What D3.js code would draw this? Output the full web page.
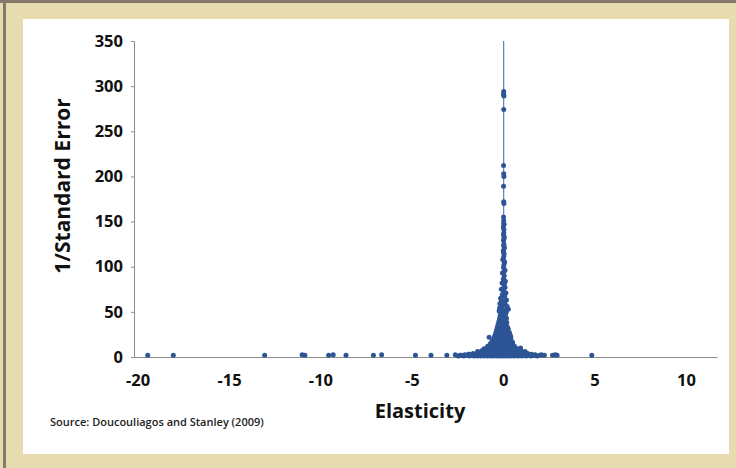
<!DOCTYPE html>
<html>
<head>
<meta charset="utf-8">
<script src="https://cdn.jsdelivr.net/npm/d3@7"></script>
<style>
  html, body { margin: 0; padding: 0; background: #e6dcb0; }
  svg { display: block; }
</style>
</head>
<body>
<div id="svg-container"></div>
<script>
////////////////////////////////////////////////////////////////////
////////////////////////////  Data  ////////////////////////////////
const xTicks = [-20, -15, -10, -5, 0, 5, 10];
const yTicks = [0, 50, 100, 150, 200, 250, 300, 350];

// [elasticity, 1/SE] — far tails lying on the axis
const tailPoints = [
  [-19.45, 2], [-18.05, 2], [-13.05, 2], [-11.0, 2.5], [-10.85, 2],
  [-9.55, 2], [-9.3, 2.5], [-8.6, 2], [-7.1, 2], [-6.65, 2.5],
  [-4.8, 2], [-3.95, 2], [-3.08, 2], [-2.62, 2.5], [-2.35, 2],
  [-2.1, 2.5], [-1.85, 3], [1.64, 2], [1.75, 2.5], [2.0, 2],
  [2.1, 2.5], [2.7, 2], [2.85, 2.5], [2.95, 2], [4.85, 2]
];

// the narrow spike of precise estimates
const spikePoints = [
  [0.03, 294], [0.02, 291], [0.04, 289], [0.03, 274], [0.02, 212],
  [0.03, 203], [0.04, 200], [0.02, 189], [0.03, 172], [0.04, 170],
  [0.02, 155], [0.03, 151], [0.03, 148], [0.05, 147], [0.01, 144],
  [0.04, 141], [0.03, 137], [0.02, 135], [0.06, 133], [0.04, 131],
  [0.02, 129], [0.04, 125], [0.03, 123], [0.07, 121], [0.01, 118],
  [0.02, 116], [0.05, 114], [0.03, 111], [-0.02, 108], [0.05, 106],
  [0.08, 105], [0.04, 102], [0.02, 99], [0.1, 96], [0.03, 94],
  [-0.04, 93], [0.06, 90], [0.03, 87], [0.01, 86], [0.12, 84],
  [-0.06, 82], [0.06, 81], [0.05, 79], [0.1, 77], [-0.1, 75],
  [0.02, 73], [0.15, 71], [-0.05, 69], [0.08, 67], [-0.14, 65],
  [0.18, 63], [0.01, 61], [-0.18, 59], [0.12, 58], [0.22, 56],
  [-0.2, 54], [-0.08, 54], [0.05, 52], [-0.22, 51], [0.16, 49],
  [-0.1, 62], [0.09, 60], [-0.03, 57], [0.28, 53], [-0.15, 50]
];

// the dense base of the funnel
const corePoints = [
  [-2.45, 1], [-2.3, 2], [-2.15, 1], [-1.98, 2], [-1.85, 1], [-1.72, 2],
  [-1.6, 1], [-1.52, 2], [-1.41, 1], [-1.33, 2], [-1.22, 1], [-1.14, 2],
  [-1.03, 1], [-0.94, 2], [-0.86, 1], [-0.77, 2], [-0.68, 1], [-0.61, 2],
  [-0.52, 1], [-0.43, 2], [-0.36, 1], [-0.27, 2], [-0.19, 1], [-0.11, 2],
  [-0.04, 1], [0.06, 2], [0.13, 1], [0.21, 2], [0.29, 1], [0.38, 2],
  [0.46, 1], [0.55, 2], [0.63, 1], [0.72, 2], [0.81, 1], [0.92, 2],
  [1.03, 1], [1.16, 2], [1.27, 1], [1.38, 2], [1.52, 1], [1.7, 2],
  [1.85, 1], [2.25, 2],
  [-1.9, 3], [-1.65, 4], [-1.48, 3], [-1.36, 5], [-1.24, 4], [-1.12, 3],
  [-0.99, 5], [-0.88, 4], [-0.79, 3], [-0.7, 5], [-0.58, 4], [-0.49, 3],
  [-0.41, 5], [-0.32, 4], [-0.23, 3], [-0.15, 5], [-0.07, 4], [0.02, 3],
  [0.09, 5], [0.17, 4], [0.26, 3], [0.34, 5], [0.42, 4], [0.51, 3],
  [0.6, 5], [0.69, 4], [0.8, 3], [0.93, 5], [1.05, 4], [1.19, 3],
  [1.34, 4], [1.55, 3],
  [-1.4, 6], [-1.18, 7], [-1.02, 6], [-0.9, 8], [-0.78, 7], [-0.66, 6],
  [-0.55, 8], [-0.46, 7], [-0.37, 6], [-0.28, 8], [-0.2, 7], [-0.12, 6],
  [-0.03, 8], [0.05, 7], [0.14, 6], [0.22, 8], [0.31, 7], [0.4, 6],
  [0.49, 8], [0.6, 7], [0.72, 6], [0.86, 7], [1.02, 6], [1.2, 6],
  [-1.05, 9], [-0.86, 10], [-0.72, 9], [-0.6, 11], [-0.5, 10], [-0.41, 9],
  [-0.32, 11], [-0.24, 10], [-0.16, 9], [-0.08, 11], [0.01, 10], [0.09, 9],
  [0.18, 11], [0.27, 10], [0.36, 9], [0.47, 11], [0.6, 10], [0.78, 9],
  [0.95, 10],
  [-0.85, 12], [-0.68, 13], [-0.56, 12], [-0.45, 14], [-0.36, 13], [-0.27, 12],
  [-0.19, 14], [-0.11, 13], [-0.03, 12], [0.06, 14], [0.14, 13], [0.23, 12],
  [0.33, 14], [0.45, 13], [0.62, 12],
  [-0.7, 15], [-0.55, 16], [-0.44, 15], [-0.34, 17], [-0.25, 16], [-0.17, 15],
  [-0.09, 17], [-0.01, 16], [0.07, 15], [0.16, 17], [0.26, 16], [0.38, 15],
  [0.52, 16],
  [-0.6, 18], [-0.46, 19], [-0.36, 18], [-0.27, 20], [-0.19, 19], [-0.11, 18],
  [-0.03, 20], [0.05, 19], [0.13, 18], [0.22, 20], [0.33, 19], [0.45, 18],
  [-0.77, 22], [-0.5, 21], [-0.38, 22], [-0.29, 23], [-0.2, 21], [-0.12, 22],
  [-0.04, 23], [0.04, 21], [0.12, 22], [0.21, 23], [0.31, 21], [0.42, 22],
  [-0.45, 24], [-0.33, 25], [-0.24, 26], [-0.15, 24], [-0.07, 25], [0.01, 26],
  [0.09, 24], [0.18, 25], [0.28, 26], [0.39, 24],
  [-0.4, 27], [-0.29, 28], [-0.2, 29], [-0.12, 27], [-0.04, 28], [0.04, 29],
  [0.13, 27], [0.23, 28], [0.34, 27],
  [-0.36, 30], [-0.25, 31], [-0.16, 32], [-0.08, 30], [0.0, 31], [0.08, 32],
  [0.17, 30], [0.28, 31],
  [-0.32, 33], [-0.21, 34], [-0.12, 35], [-0.04, 33], [0.04, 34], [0.13, 35],
  [0.24, 33],
  [-0.28, 36], [-0.17, 37], [-0.08, 38], [0.0, 36], [0.09, 37], [0.2, 38],
  [-0.24, 39], [-0.14, 40], [-0.05, 41], [0.04, 39], [0.15, 40],
  [-0.2, 42], [-0.1, 43], [-0.01, 44], [0.08, 42], [0.18, 43],
  [-0.17, 45], [-0.07, 46], [0.03, 47], [0.12, 45],
  [-0.14, 48], [-0.04, 49], [0.06, 48], [0.15, 50]
];

////////////////////////////////////////////////////////////////////
////////////////////////////  Init  ////////////////////////////////
const width = 736;
const height = 468;
const blue = "#2d5596";

const svg = d3
  .select("#svg-container")
  .append("svg")
  .attr("width", width)
  .attr("height", height);

// frame
svg.append("rect").attr("width", width).attr("height", height).attr("fill", "#e6dcb0");
svg.append("rect").attr("width", width).attr("height", 3).attr("fill", "#857a6b");
svg.append("rect").attr("x", 3).attr("width", 3).attr("height", height).attr("fill", "#857a6b");
svg.append("rect").attr("x", 23).attr("y", 19).attr("width", 706).attr("height", 435).attr("fill", "#fff");

// scale
const x = d3.scaleLinear().domain([-20.2, 11.7]).range([134, 717]);
const y = d3.scaleLinear().domain([0, 350]).range([357, 41]);

const font = "'Open Sans', 'Noto Sans', sans-serif";

// axes
const xAxis = svg
  .append("g")
  .attr("transform", `translate(0,${y(0)})`)
  .call(d3.axisBottom(x).tickValues(xTicks).tickSize(0).tickPadding(17).tickFormat(d3.format("d")));

const yAxis = svg
  .append("g")
  .attr("transform", `translate(${x.range()[0]},0)`)
  .call(d3.axisLeft(y).tickValues(yTicks).tickSize(3).tickPadding(8));

[xAxis, yAxis].forEach((a) => {
  a.select(".domain").attr("stroke", "#8c8c8c");
  a.selectAll(".tick line").attr("stroke", "#8c8c8c");
  a.selectAll("text")
    .attr("fill", "#111")
    .style("font-family", font)
    .style("font-weight", "bold")
    .style("font-size", "16.5px");
});
xAxis.selectAll("text").text((d) => (d < 0 ? "-" + Math.abs(d) : d));

// the thin line along zero
svg
  .append("line")
  .attr("x1", x(0.03))
  .attr("x2", x(0.03))
  .attr("y1", y(0))
  .attr("y2", y(350))
  .attr("stroke", "#3d64a3")
  .attr("stroke-width", 1);

// points
const allPoints = [...tailPoints, ...corePoints, ...spikePoints];
svg
  .append("g")
  .selectAll("circle")
  .data(allPoints)
  .enter()
  .append("circle")
  .attr("cx", (d) => x(d[0]))
  .attr("cy", (d) => y(d[1]))
  .attr("r", 2.5)
  .attr("fill", blue);

// titles
svg
  .append("text")
  .attr("transform", `translate(70,186) rotate(-90)`)
  .attr("text-anchor", "middle")
  .style("font-family", font)
  .style("font-weight", "bold")
  .style("font-size", "21px")
  .attr("fill", "#111")
  .text("1/Standard Error");

svg
  .append("text")
  .attr("x", 420)
  .attr("y", 418)
  .attr("text-anchor", "middle")
  .style("font-family", font)
  .style("font-weight", "bold")
  .style("font-size", "20px")
  .attr("fill", "#111")
  .text("Elasticity");

svg
  .append("text")
  .attr("x", 50)
  .attr("y", 426)
  .style("font-family", font)
  .style("font-weight", "600")
  .style("font-size", "11px")
  .attr("fill", "#222")
  .text("Source: Doucouliagos and Stanley (2009)");
</script>
</body>
</html>
